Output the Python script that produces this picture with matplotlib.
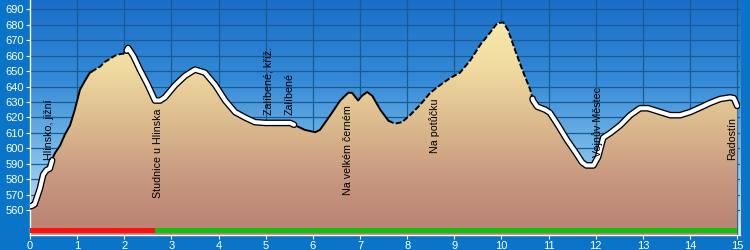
import numpy as np
import matplotlib
matplotlib.use("Agg")
import matplotlib.pyplot as plt
from matplotlib.colors import LinearSegmentedColormap

plt.rcParams['font.family'] = ['Liberation Sans', 'DejaVu Sans']

# ---- data ----
km = [0, 0.05, 0.1, 0.21, 0.28, 0.35, 0.42, 0.49, 0.53, 0.64, 0.74, 0.85, 0.95, 1.06,
      1.17, 1.27, 1.38, 1.49, 1.59, 1.70, 1.80, 1.91, 2.02, 2.08, 2.19, 2.33, 2.5,
      2.65, 2.76, 2.86, 3.08, 3.29, 3.5, 3.71, 3.93, 4.14, 4.35, 4.56, 4.77, 4.99,
      5.2, 5.52, 5.62, 5.83, 6.05, 6.15, 6.37, 6.58, 6.75, 6.83, 6.96, 7.04, 7.15,
      7.26, 7.43, 7.6, 7.74, 7.89, 8.06, 8.27, 8.49, 8.7, 8.91, 9.12, 9.34, 9.55,
      9.76, 9.91, 10.04, 10.14, 10.29, 10.44, 10.61, 10.67, 10.76, 10.93, 11.03,
      11.2, 11.39, 11.56, 11.71, 11.8, 11.95, 12.05, 12.16, 12.31, 12.52, 12.73,
      12.94, 13.11, 13.37, 13.58, 13.79, 14.0, 14.22, 14.43, 14.64, 14.85, 14.93, 15.0]
elev = [562.5, 563, 564, 574, 583, 586, 587, 594.5, 597, 602, 609, 615, 625, 638,
        644, 649, 651, 653, 656, 658, 660, 661, 661.5, 665, 660, 651, 641,
        631, 631, 633, 641, 647, 651, 649, 641, 631, 623.5, 620, 617, 616.5,
        616.5, 616.5, 615, 612, 610.5, 612, 621.5, 631, 636, 636, 631, 634, 636.5,
        634, 625, 618, 616, 617, 621.5, 628, 636, 641, 645.5, 649, 657, 667,
        675, 681, 681.5, 676.5, 663.5, 651, 638, 631, 627, 625, 623,
        615, 605.5, 598, 591, 589, 589, 594.5, 607, 610, 615, 621.5,
        626, 626, 623.5, 621.5, 621.5, 623.5, 626.5, 629.5, 632, 633, 632.5, 627.5]

y_ticks = list(range(560, 700, 10))
x_ticks = list(range(0, 16))

waypoint_names = ["Hlinsko, jižní", "Studnice u Hlinska", "Zalíbené, kříž.", "Zalíbené",
                  "Na velkém černém", "Na potůčku", "Vojnův Městec", "Radostín"]
waypoint_km = [0.40, 2.72, 5.06, 5.51, 6.75, 8.59, 12.03, 14.9]
waypoint_label_base = [592.6, 568, 621.6, 621.6, 570, 597, 594.5, 592.6]

surface_breaks = [0.0, 2.65, 15.0]
surface_colors = ['#ff1010', '#10c010']

# line style sections (start km, end km, style)
sections = [(0.0, 0.47, 'road'), (0.47, 1.3, 'path'), (1.3, 2.05, 'dash'),
            (2.05, 5.6, 'road'), (5.6, 7.6, 'path'), (7.6, 10.66, 'dash'),
            (10.66, 15.0, 'road')]

# ---- figure ----
fig = plt.figure(figsize=(7.5, 2.5), dpi=100, facecolor='#0a74c8')
ax = fig.add_axes([0.04, 0.06, 0.9467, 0.94])
x0, x1 = 0, 15.06
y0, y1 = 544, 696
ax.set_xlim(x0, x1)
ax.set_ylim(y0, y1)

sky = LinearSegmentedColormap.from_list('sky', ['#c9e7f8', '#7dbdea', '#3489d6', '#1a6ec8'])
grad = np.linspace(0, 1, 256).reshape(-1, 1)
ax.imshow(grad, cmap=sky, extent=[x0, x1, y0, y1], origin='lower', aspect='auto', zorder=0)

for yt in y_ticks:
    ax.axhline(yt, color='#175c92', lw=0.9, zorder=1)
for xt in x_ticks:
    ax.axvline(xt, color='#175c92', lw=0.9, zorder=1)

terrain = LinearSegmentedColormap.from_list('terrain', ['#b98071', '#c89880', '#dcbb8e', '#f0dca0', '#f8ebb0'])
poly = ax.fill_between(km, elev, y0, color='none', lw=0, zorder=2)
img = ax.imshow(grad, cmap=terrain, extent=[x0, x1, y0, 690], origin='lower', aspect='auto', zorder=2)
img.set_clip_path(poly.get_paths()[0], transform=ax.transData)

kma = np.array(km)
ela = np.array(elev)
for a, b, st in sections:
    m = (kma > a) & (kma < b)
    xs = np.concatenate([[a], kma[m], [b]])
    ys = np.concatenate([[np.interp(a, kma, ela)], ela[m], [np.interp(b, kma, ela)]])
    if st == 'road':
        ax.plot(xs, ys, color='black', lw=4.8, solid_capstyle='round', zorder=3)
        ax.plot(xs, ys, color='white', lw=2.9, solid_capstyle='round', zorder=3.5)
    elif st == 'path':
        ax.plot(xs, ys, color='black', lw=1.4, zorder=3)
    else:
        ax.plot(xs, ys, color='black', lw=1.4, dashes=(3, 1.2), zorder=3)

for i in range(len(surface_colors)):
    ax.fill_between([surface_breaks[i], surface_breaks[i + 1]], 545.5, 548.8,
                    color=surface_colors[i], lw=0, zorder=4)

for name, xk, yb in zip(waypoint_names, waypoint_km, waypoint_label_base):
    ax.text(xk, yb, name, rotation=90, ha='center', va='bottom', fontsize=7.7,
            color='black', zorder=5)

ax.set_yticks(y_ticks)
ax.set_xticks(x_ticks)
ax.tick_params(colors='white', labelcolor='white', labelsize=8, length=3, width=0.8, pad=1.5)
for s in ['top', 'right']:
    ax.spines[s].set_visible(False)
for s in ['left', 'bottom']:
    ax.spines[s].set_color('white')
    ax.spines[s].set_linewidth(1)

fig.savefig('out.png', dpi=100, facecolor=fig.get_facecolor())
